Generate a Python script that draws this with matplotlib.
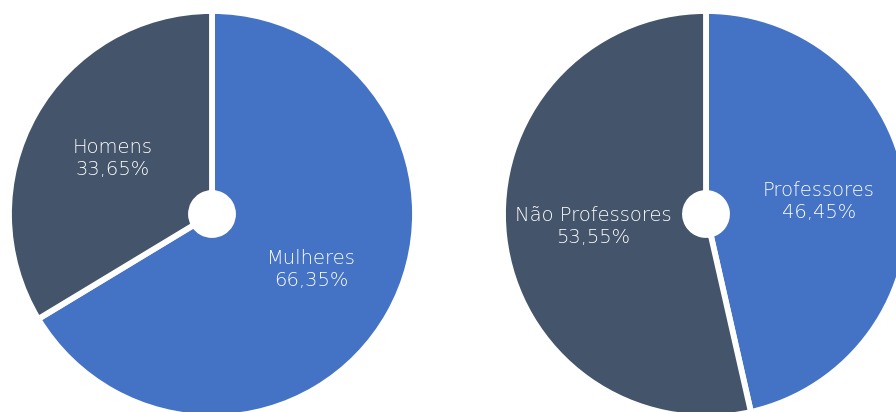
import matplotlib
matplotlib.use("Agg")
import matplotlib.pyplot as plt

# Data
genero_labels = ["Mulheres", "Homens"]
genero_values = [66.35, 33.65]
prof_labels = ["Professores", "Não Professores"]
prof_values = [46.45, 53.55]

colors = ["#4472C4", "#44546A"]

W, H = 896, 412
fig = plt.figure(figsize=(W / 100, H / 100), dpi=100)
ax = fig.add_axes([0, 0, 1, 1])

R = 203
hole = 21

def fmt(v):
    return f"{v:.2f}%".replace(".", ",")

def draw(center, labels, values):
    texts = [f"{l}\n{fmt(v)}" for l, v in zip(labels, values)]
    wedges, lbls = ax.pie(values, colors=colors, startangle=90, counterclock=False,
                          radius=R, center=center, labels=texts, labeldistance=0.56,
                          wedgeprops=dict(width=R - hole, edgecolor="white", linewidth=4.2),
                          textprops=dict(color="white", fontsize=14, weight="light",
                                         family=["DejaVu Sans"]),
                          frame=True)
    for t in lbls:
        t.set_ha("center")
        t.set_va("center")
        t.set_multialignment("center")
        t.set_linespacing(1.2)

draw((212, H - 214), genero_labels, genero_values)
draw((706, H - 214), prof_labels, prof_values)

ax.set_xlim(0, W)
ax.set_ylim(0, H)
ax.set_aspect("equal")
ax.axis("off")

fig.savefig("out.png", dpi=100)
